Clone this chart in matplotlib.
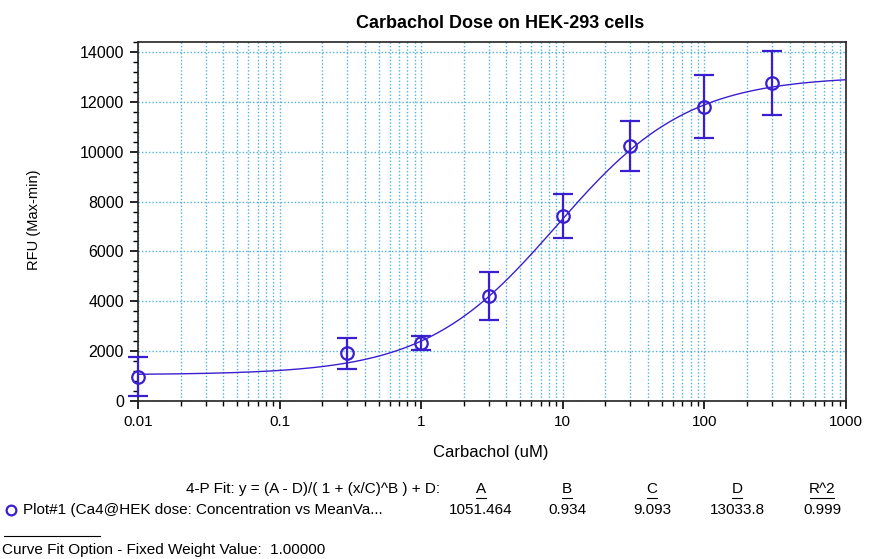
import numpy as np
import matplotlib
matplotlib.use("Agg")
import matplotlib.pyplot as plt
from matplotlib.ticker import LogLocator, FixedLocator, MultipleLocator, FuncFormatter
from matplotlib.lines import Line2D

plt.rcParams['font.family'] = ['Liberation Sans', 'DejaVu Sans']

# Data
conc = [0.01, 0.3, 1, 3, 10, 30, 100, 300]
rfu = [980, 1920, 2320, 4200, 7420, 10230, 11810, 12740]
rfu_err = [770, 620, 270, 960, 880, 1000, 1250, 1280]

# Fit parameters (from legend)
fit_A, fit_B, fit_C, fit_D, fit_R2 = 1051.464, 0.934, 9.093, 13033.8, 0.999
param_names = ["A", "B", "C", "D", "R^2"]
param_values = ["1051.464", "0.934", "9.093", "13033.8", "0.999"]

x_ticks = [0.01, 0.1, 1, 10, 100, 1000]
x_ticklabels = ["0.01", "0.1", "1", "10", "100", "1000"]
y_ticks = [0, 2000, 4000, 6000, 8000, 10000, 12000, 14000]

col = "#3a1fd0"
grid_col = "#4fb3dd"

fig = plt.figure(figsize=(8.71, 5.59), dpi=100)
W, H = 871, 559
ax = fig.add_axes([138 / W, 1 - 401 / H, (846 - 138) / W, (401 - 42) / H])

ax.set_xscale("log")
ax.set_xlim(0.01, 1000)
ax.set_ylim(0, 14400)

xs = np.logspace(-2, 3, 400)
ys = (fit_A - fit_D) / (1 + (xs / fit_C) ** fit_B) + fit_D
ax.plot(xs, ys, color=col, lw=1.0, zorder=3)

ax.errorbar(conc, rfu, yerr=rfu_err, fmt="o", mfc="none", mec=col, ecolor=col,
            ms=9, mew=1.6, elinewidth=1.6, capsize=7, capthick=1.6, zorder=4, clip_on=False)

ax.xaxis.set_major_locator(FixedLocator(x_ticks))
ax.xaxis.set_major_formatter(FuncFormatter(lambda v, p: x_ticklabels[x_ticks.index(v)] if v in x_ticks else ""))
ax.xaxis.set_minor_locator(LogLocator(base=10, subs=np.arange(2, 10), numticks=20))
ax.xaxis.set_minor_formatter(FuncFormatter(lambda v, p: ""))
ax.yaxis.set_major_locator(FixedLocator(y_ticks))
ax.yaxis.set_minor_locator(MultipleLocator(400))

ax.grid(True, which="major", axis="both", color=grid_col, ls=(0, (1, 1.5)), lw=1.0)
ax.grid(True, which="minor", axis="x", color=grid_col, ls=(0, (1, 1.5)), lw=1.0)
ax.set_axisbelow(True)

ax.tick_params(which="major", direction="out", length=6, width=1.2, colors="black", pad=4)
ax.tick_params(axis="x", which="major", labelsize=11)
ax.tick_params(axis="y", which="major", labelsize=11.5)
ax.tick_params(which="minor", direction="out", length=3.5, width=1.0)
ax.tick_params(axis="x", which="both", top=False)
ax.tick_params(axis="y", which="both", right=False)
for s in ax.spines.values():
    s.set_linewidth(1.2)
    s.set_color("#222222")

def px(x, y):
    return x / W, 1 - y / H

fig.text(*px(491, 453), "Carbachol (uM)", ha="center", va="center", fontsize=12)
fig.text(*px(34, 220), "RFU (Max-min)", ha="center", va="center", rotation=90, fontsize=10.5)
fig.text(*px(500, 23), "Carbachol Dose on HEK-293 cells", ha="center", va="center",
         fontsize=13, fontweight="bold")

# Legend block below
fs = 11
fig.text(*px(440, 489), "4-P Fit: y = (A - D)/( 1 + (x/C)^B ) + D:", ha="right", va="center", fontsize=fs)
cols_x = [481, 567, 652, 737, 822]
for name, val, cx in zip(param_names, param_values, cols_x):
    fig.text(*px(cx, 489), name, ha="center", va="center", fontsize=fs)
    hw = 5 if len(name) == 1 else 12
    fig.add_artist(Line2D([(cx - hw) / W, (cx + hw) / W], [1 - 497.5 / H, 1 - 497.5 / H],
                          color="black", lw=0.8, transform=fig.transFigure))
    fig.text(*px(cx, 510), val, ha="center", va="center", fontsize=fs)
fig.add_artist(Line2D([11 / W], [1 - 510 / H], marker="o", mfc="none", mec=col, ms=7, mew=1.6,
                      transform=fig.transFigure))
fig.text(*px(23, 510), "Plot#1 (Ca4@HEK dose: Concentration vs MeanVa...", ha="left", va="center", fontsize=fs)
fig.add_artist(Line2D([4 / W, 100 / W], [1 - 536 / H, 1 - 536 / H], color="black", lw=0.8,
                      transform=fig.transFigure))
fig.text(*px(2, 550), "Curve Fit Option - Fixed Weight Value:  1.00000", ha="left", va="center", fontsize=fs)

fig.savefig("out.png", dpi=100)
